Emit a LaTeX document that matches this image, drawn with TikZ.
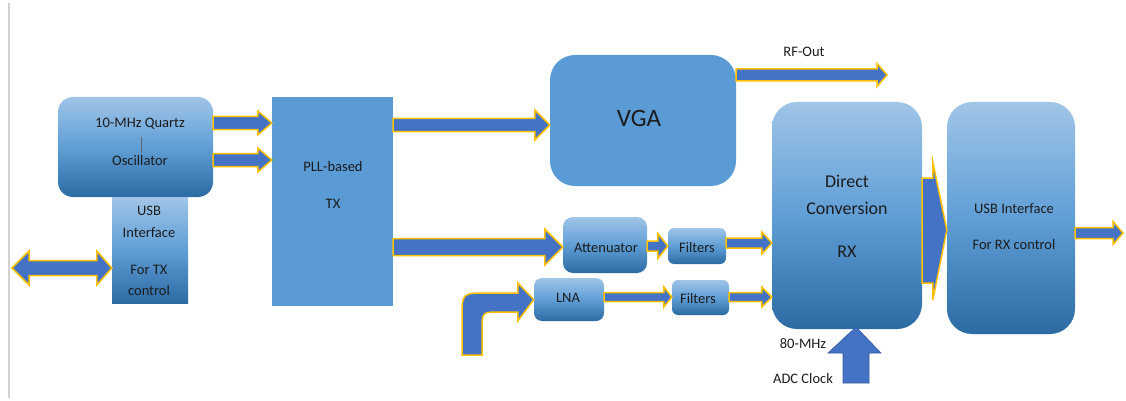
\documentclass[tikz,border=0pt]{standalone}
\usepackage{fontspec}
\setmainfont{Carlito}
\usetikzlibrary{calc}

\definecolor{boxflat}{RGB}{91,155,213}
\definecolor{gradtop}{RGB}{160,197,231}
\definecolor{gradmid}{RGB}{96,158,214}
\definecolor{gradbot}{RGB}{44,106,164}
\definecolor{arrowfill}{RGB}{68,114,196}
\definecolor{arrowedge}{RGB}{255,192,0}
\definecolor{txt}{RGB}{28,28,28}

\tikzset{
  gradbox/.style={shade, top color=gradtop, bottom color=gradbot, middle color=gradmid,
                  draw=none, inner sep=0pt},
  flatbox/.style={fill=boxflat, draw=none, inner sep=0pt},
  blockarrow/.style={fill=arrowfill, draw=arrowedge, line width=1.5pt, line join=miter},
  lbl/.style={text=txt, inner sep=0pt, font=\fontsize{14.5}{17}\selectfont},
}

% horizontal block arrow: from #1 to #2 (same height), shaft half width #3,
% head half width #4, head length #5
\newcommand\blockarrow[5]{%
  \path[blockarrow] let \p1=#1, \p2=#2 in
    ({\x1},{\y1+#3}) -- ({\x2-#5},{\y1+#3}) -- ({\x2-#5},{\y1+#4}) -- ({\x2},{\y1})
    -- ({\x2-#5},{\y1-#4}) -- ({\x2-#5},{\y1-#3}) -- ({\x1},{\y1-#3}) -- cycle;}

\begin{document}
\begin{tikzpicture}[x=1pt,y=-1pt]
\useasboundingbox (0,0) rectangle (1126,401);

% page rule at the left
\draw[gray!35, line width=1.5pt] (9,3) -- (9,398);

% ---------- blocks ----------
\node[gradbox, rounded corners=15pt, minimum width=155pt, minimum height=100pt] (osc) at (135.5,147) {};
\node[gradbox, minimum width=76pt, minimum height=106pt] (usbtx) at (150,250) {};
\node[flatbox, minimum width=121pt, minimum height=209pt] (pll) at (332.5,201.5) {};
\node[flatbox, rounded corners=25pt, minimum width=186pt, minimum height=131pt] (vga) at (643,120.5) {};
\node[gradbox, rounded corners=10pt, minimum width=84pt, minimum height=56pt] (att) at (605,245) {};
\node[gradbox, rounded corners=6pt, minimum width=58pt, minimum height=36pt] (filt1) at (697,246) {};
\node[gradbox, rounded corners=8pt, minimum width=70pt, minimum height=43pt] (lna) at (569,299.5) {};
\node[gradbox, rounded corners=6pt, minimum width=57pt, minimum height=35pt] (filt2) at (700.5,297.5) {};
\node[gradbox, rounded corners=25pt, minimum width=150pt, minimum height=227pt] (rx) at (847,215.5) {};
\node[gradbox, rounded corners=25pt, minimum width=128pt, minimum height=232pt] (usbrx) at (1011,218) {};

% free ends of the outer connectors
\coordinate (host) at (12,268);
\coordinate (rfout) at (887,75);
\coordinate (rfin) at (472,355);
\coordinate (rxout) at (1123,233);
\coordinate (clk) at (856,383);

% ---------- connectors ----------
\blockarrow{(osc.east |- 0,123)}{(pll.west |- 0,123)}{6.5pt}{12pt}{14pt}
\blockarrow{(osc.east |- 0,160)}{(pll.west |- 0,160)}{6.5pt}{12pt}{14pt}
\blockarrow{(pll.east |- 0,125)}{(vga.west |- 0,125)}{6.5pt}{15pt}{15pt}
\blockarrow{(vga.east |- rfout)}{(rfout)}{6pt}{11.5pt}{10pt}
\blockarrow{(pll.east |- 0,247)}{(att.west |- 0,247)}{8.5pt}{18pt}{18pt}
\blockarrow{(att.east |- 0,246)}{(filt1.west |- 0,246)}{5pt}{12.5pt}{10pt}
\blockarrow{(filt1.east |- 0,243)}{(rx.west |- 0,243)}{5pt}{11pt}{10pt}
\blockarrow{(lna.east |- 0,297)}{(filt2.west |- 0,297)}{4.5pt}{10pt}{8pt}
\blockarrow{(filt2.east |- 0,297)}{(rx.west |- 0,297)}{4.5pt}{10pt}{10pt}
\blockarrow{(usbrx.east |- rxout)}{(rxout)}{5.5pt}{11.5pt}{10pt}

% wide arrow from the receiver into the USB interface
\path[blockarrow] let \p1=(rx.east), \p2=(usbrx.west) in
  ({\x1},178) -- ({\x2-14pt},178) -- ({\x2-14pt},162) -- ({\x2},230)
  -- ({\x2-14pt},300) -- ({\x2-14pt},283) -- ({\x1},283) -- cycle;

% two-way link between host and the TX USB interface
\path[blockarrow] let \p1=(host), \p2=(usbtx.west |- host) in
  (\p1) -- ({\x1+17pt},{\y1+17pt}) -- ({\x1+17pt},{\y1+7.5pt}) -- ({\x2-15pt},{\y1+7.5pt})
  -- ({\x2-15pt},{\y1+17pt}) -- (\p2) -- ({\x2-15pt},{\y1-17pt}) -- ({\x2-15pt},{\y1-7.5pt})
  -- ({\x1+17pt},{\y1-7.5pt}) -- ({\x1+17pt},{\y1-17pt}) -- cycle;

% bent antenna input into the LNA
\path[blockarrow] let \p1=(rfin), \p2=(lna.west) in
  ({\x1-10pt},{\y1}) -- ({\x1-10pt},318) .. controls ({\x1-10pt},293) .. (487,293)
  -- ({\x2-16pt},293) -- ({\x2-16pt},283) -- ({\x2},{\y2}) -- ({\x2-16pt},321)
  -- ({\x2-16pt},312) -- (500,312) .. controls ({\x1+10pt},312) .. ({\x1+10pt},330)
  -- ({\x1+10pt},{\y1}) -- cycle;

% 80-MHz ADC clock into the receiver
\path[fill=arrowfill, draw=arrowfill!80!black, line width=0.6pt, line join=miter]
  let \p1=(clk), \p2=(rx.south |- 0,327) in
  ({\x1-13pt},{\y1}) -- ({\x1-13pt},353) -- ({\x1-28pt},353) -- ({\x1},{\y2})
  -- ({\x1+25pt},353) -- ({\x1+13pt},353) -- ({\x1+13pt},{\y1}) -- cycle;

% ---------- labels ----------
\node[lbl, anchor=base] (oscA) at (140,128) {10-MHz Quartz};
\node[lbl, anchor=base] (oscB) at (140,165) {Oscillator};
\draw[gray!80!black, line width=0.5pt] (141,137) -- (141,153);

\node[lbl, anchor=base] (utxA) at (149,215) {USB};
\node[lbl, anchor=base] (utxB) at (149,237) {Interface};
\node[lbl, anchor=base] (utxC) at (149,274) {For TX};
\node[lbl, anchor=base] (utxD) at (149,295) {control};

\node[lbl, anchor=base] (pllA) at (333,171) {PLL-based};
\node[lbl, anchor=base] (pllB) at (333,208) {TX};

\node[lbl, anchor=base, font=\fontsize{25}{30}\selectfont] (vgaT) at (639,126) {VGA};
\node[lbl, anchor=base] (rfoutT) at (804,57) {RF-Out};

\node[lbl, anchor=base] (attT) at (606,252) {Attenuator};
\node[lbl, anchor=base] (f1T) at (697,252) {Filters};
\node[lbl, anchor=base] (lnaT) at (568,302) {LNA};
\node[lbl, anchor=base] (f2T) at (698,303) {Filters};

\node[lbl, anchor=base, font=\fontsize{18}{22}\selectfont] (rxA) at (847,187) {Direct};
\node[lbl, anchor=base, font=\fontsize{18}{22}\selectfont] (rxB) at (847,214) {Conversion};
\node[lbl, anchor=base, font=\fontsize{18}{22}\selectfont] (rxC) at (847,257) {RX};

\node[lbl, anchor=base] (urxA) at (1014,213) {USB Interface};
\node[lbl, anchor=base] (urxB) at (1014,249) {For RX control};

\node[lbl, anchor=base] (clkA) at (803,348) {80-MHz};
\node[lbl, anchor=base] (clkB) at (803,383) {ADC Clock};
\end{tikzpicture}
\end{document}
